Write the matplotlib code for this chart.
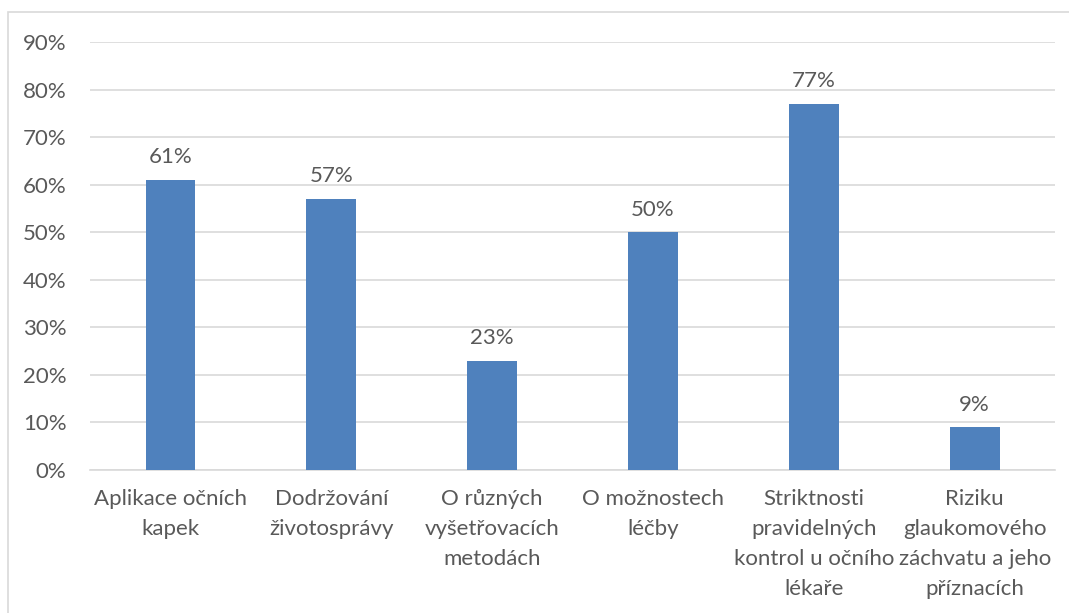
import matplotlib.pyplot as plt
from matplotlib.patches import Rectangle
from matplotlib.ticker import FuncFormatter

categories = [
    "Aplikace očních\nkapek",
    "Dodržování\nživotosprávy",
    "O různých\nvyšetřovacích\nmetodách",
    "O možnostech\nléčby",
    "Striktnosti\npravidelných\nkontrol u očního\nlékaře",
    "Riziku\nglaukomového\nzáchvatu a jeho\npříznacích",
]
values = [61, 57, 23, 50, 77, 9]
yticks = [0, 10, 20, 30, 40, 50, 60, 70, 80, 90]

text_color = "#595959"
bar_color = "#4F81BD"
grid_color = "#D9D9D9"

plt.rcParams["font.family"] = ["Lato", "DejaVu Sans"]

fig = plt.figure(figsize=(10.69, 6.13), dpi=100)
ax = fig.add_axes([0.0842, 0.2333, 0.9028, 0.6982])

# outer chart border
fig.patches.append(Rectangle((8 / 1069, -0.05), 1.1, 1 - 12 / 613 + 0.05,
                             transform=fig.transFigure, fill=False,
                             edgecolor=grid_color, linewidth=1.2))

x = range(len(categories))
bars = ax.bar(x, values, width=0.31, color=bar_color, zorder=3)

for b, v in zip(bars, values):
    ax.annotate(f"{v}%", (b.get_x() + b.get_width() / 2, v),
                xytext=(0, 9), textcoords="offset points",
                ha="center", va="bottom", fontsize=16, color=text_color)

ax.set_xlim(-0.5, len(categories) - 0.5)
ax.set_ylim(0, 90)
ax.set_yticks(yticks)
ax.yaxis.set_major_formatter(FuncFormatter(lambda v, p: f"{v:.0f}%"))
ax.set_xticks(list(x))
ax.set_xticklabels(categories, linespacing=1.62)

ax.grid(axis="y", color=grid_color, linewidth=1.2, zorder=0)
ax.tick_params(axis="both", length=0, labelsize=16, colors=text_color)
ax.tick_params(axis="x", pad=14)
ax.tick_params(axis="y", pad=17)
for side in ["top", "right", "left"]:
    ax.spines[side].set_visible(False)
ax.spines["bottom"].set_color(grid_color)
ax.spines["bottom"].set_linewidth(1.2)

fig.savefig("out.png", dpi=100)
